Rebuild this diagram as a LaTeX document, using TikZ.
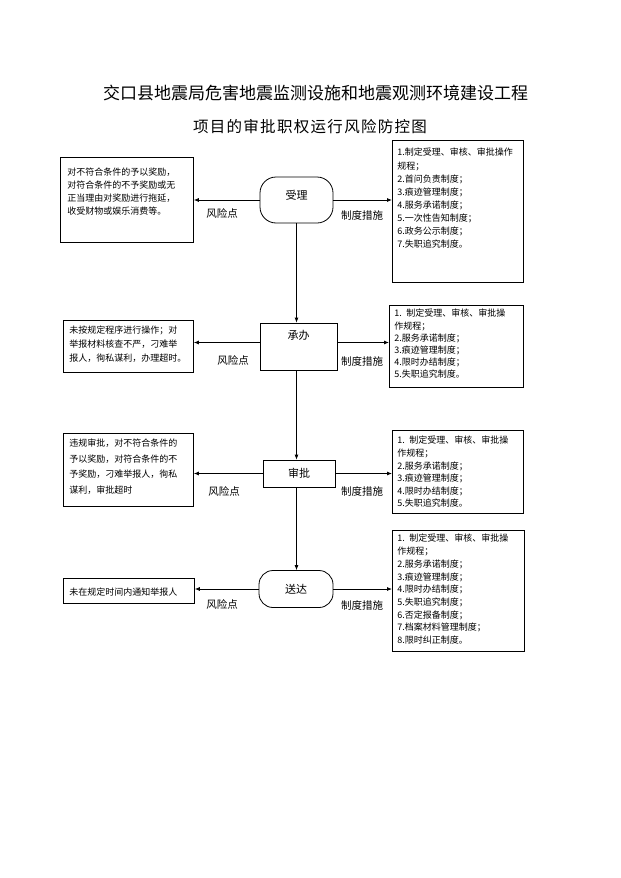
\documentclass[tikz,border=0pt]{standalone}
\usepackage{fontspec}
\setmainfont{Noto Sans CJK SC}
\usetikzlibrary{arrows.meta}

\def\spreadchars#1{\ifx\relax#1\else#1\hfil\expandafter\spreadchars\fi}
\newcommand{\spreadline}[2]{\hbox to #1{\spreadchars#2\relax\unskip}}

\tikzset{
  flowline/.style={line width=0.8pt,-{Latex[length=5pt,width=4pt]}},
  riskbox/.style={draw,line width=0.8pt,anchor=north west,align=left,inner xsep=6pt,inner ysep=0pt},
  measurebox/.style={draw,line width=0.8pt,anchor=north west,align=left,inner xsep=5pt,inner ysep=0pt},
  stepround/.style={draw,line width=0.8pt,rectangle,rounded corners=16pt,font=\fontsize{11}{13}\selectfont},
  steprect/.style={draw,line width=0.8pt,rectangle,font=\fontsize{11}{13}\selectfont},
  tag/.style={font=\fontsize{10.5}{12}\selectfont}
}

\begin{document}
\begin{tikzpicture}[x=1pt,y=-1pt]
\useasboundingbox (0,0) rectangle (621,878);
%title
\node[font=\fontsize{17}{20}\selectfont,inner sep=0pt] (title1) at (311.5,93) {\spreadline{417pt}{交口县地震局危害地震监测设施和地震观测环境建设工程}};
\node[font=\fontsize{15.5}{20}\selectfont,inner sep=0pt] (title2) at (310,127) {\spreadline{234pt}{项目的审批职权运行风险防控图}};

%steps
\node[stepround,minimum width=73pt,minimum height=46pt,text height=8pt,text depth=9.6pt] (shouli) at (296.5,200) {受理};
\node[steprect,minimum width=77pt,minimum height=47pt,text height=8pt,text depth=22.6pt] (chengban) at (298.5,346.5) {承办};
\node[steprect,minimum width=72pt,minimum height=27pt] (shenpi) at (299,473.5) {审批};
\node[stepround,rounded corners=14pt,minimum width=74pt,minimum height=37pt] (songda) at (296,589) {送达};

%risk points
\node[riskbox,inner xsep=7pt,text width=119pt,text height=18.5pt,text depth=66.5pt,font=\fontsize{9}{13}\selectfont] (risk1) at (60,157)
 {对不符合条件的予以奖励，\\对符合条件的不予奖励或无\\正当理由对奖励进行拖延，\\收受财物或娱乐消费等。};
\node[riskbox,text width=118pt,text height=13.5pt,text depth=38.5pt,font=\fontsize{9}{14}\selectfont] (risk2) at (63,320)
 {未按规定程序进行操作；对\\举报材料核查不严，刁难举\\报人，徇私谋利，办理超时。};
\node[riskbox,text width=118pt,text height=13.5pt,text depth=59.5pt,font=\fontsize{9}{15.5}\selectfont] (risk3) at (63,433)
 {违规审批，对不符合条件的\\予以奖励，对符合条件的不\\予奖励，刁难举报人，徇私\\谋利，审批超时};
\node[riskbox,text width=119pt,text height=17.5pt,text depth=7.5pt,font=\fontsize{9}{13}\selectfont] (risk4) at (63,578)
 {未在规定时间内通知举报人};

%measures
\node[measurebox,text width=121pt,text height=15.5pt,text depth=126.5pt,font=\fontsize{9}{13.1}\selectfont] (measure1) at (392,140)
 {1.制定受理、审核、审批操作\\规程；\\2.首问负责制度；\\3.痕迹管理制度；\\4.服务承诺制度；\\5.一次性告知制度；\\6.政务公示制度；\\7.失职追究制度。};
\node[measurebox,text width=124pt,text height=11.5pt,text depth=70.5pt,font=\fontsize{9}{12.2}\selectfont] (measure2) at (389,305)
 {1. 制定受理、审核、审批操\\作规程；\\2.服务承诺制度；\\3.痕迹管理制度；\\4.限时办结制度；\\5.失职追究制度。};
\node[measurebox,text width=121pt,text height=13.5pt,text depth=69.5pt,font=\fontsize{9}{12.6}\selectfont] (measure3) at (392,430)
 {1. 制定受理、审核、审批操\\作规程；\\2.服务承诺制度；\\3.痕迹管理制度；\\4.限时办结制度；\\5.失职追究制度。};
\node[measurebox,text width=122pt,text height=11.5pt,text depth=109.5pt,font=\fontsize{9}{12.7}\selectfont] (measure4) at (392,530)
 {1. 制定受理、审核、审批操\\作规程；\\2.服务承诺制度；\\3.痕迹管理制度；\\4.限时办结制度；\\5.失职追究制度；\\6.否定报备制度；\\7.档案材料管理制度；\\8.限时纠正制度。};

%labels
\node[tag] (rlab1) at (222,213) {风险点};
\node[tag] (mlab1) at (362,215) {制度措施};
\node[tag] (rlab2) at (233,360) {风险点};
\node[tag] (mlab2) at (362,361) {制度措施};
\node[tag] (rlab3) at (224,491) {风险点};
\node[tag] (mlab3) at (362,491) {制度措施};
\node[tag] (rlab4) at (222,604) {风险点};
\node[tag] (mlab4) at (362,605) {制度措施};

%arrows
\draw[flowline] (shouli.west) -- (shouli.west -| risk1.east);
\draw[flowline] (shouli.east) -- (shouli.east -| measure1.west);
\draw[flowline] (shouli.south) -- (shouli.south |- chengban.north);
\draw[flowline] ([yshift=4pt]chengban.west) -- ([yshift=4pt]chengban.west -| risk2.east);
\draw[flowline] ([yshift=4pt]chengban.east) -- ([yshift=4pt]chengban.east -| measure2.west);
\draw[flowline] (chengban.south -| shouli.south) -- (shenpi.north -| shouli.south);
\draw[flowline] (shenpi.west) -- (shenpi.west -| risk3.east);
\draw[flowline] (shenpi.east) -- (shenpi.east -| measure3.west);
\draw[flowline] (shenpi.south -| shouli.south) -- (songda.north -| shouli.south);
\draw[flowline] (songda.west) -- (songda.west -| risk4.east);
\draw[flowline] (songda.east) -- (songda.east -| measure4.west);

\end{tikzpicture}
\end{document}
